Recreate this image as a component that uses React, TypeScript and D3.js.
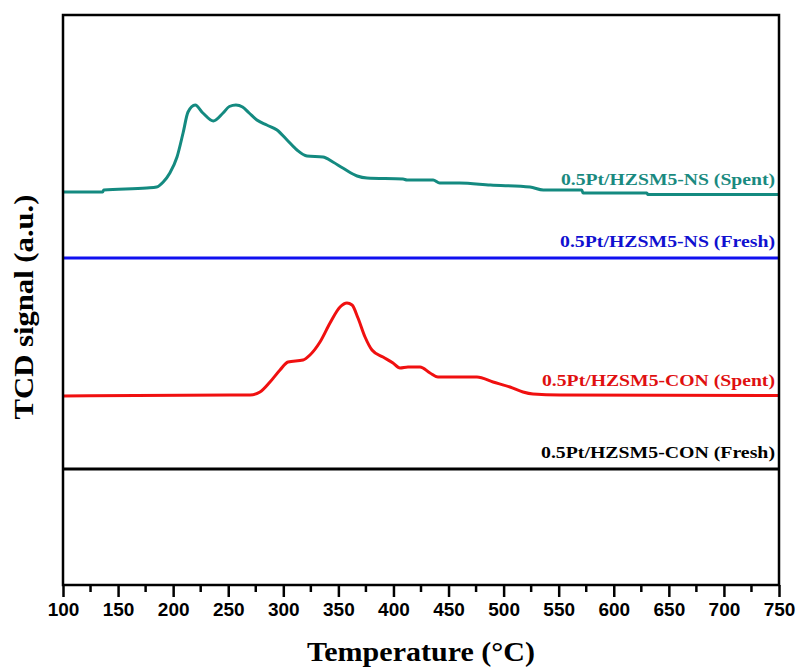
import React, { useEffect, useRef } from 'react';
import * as d3 from 'd3';

const width = 799;
const height = 669;
const margin = { top: 15, right: 20, bottom: 84, left: 63 };

// temperature (°C) and TCD signal (a.u., offset per curve)
const nsSpentTemp = [100, 136, 137, 176, 185, 191, 197, 203.5, 209, 213.5, 220, 227, 236.5, 245.3, 251, 257, 263, 269, 276, 285, 294.3, 303.4, 312.4, 321.5, 336, 345, 354, 367, 376, 408.7, 412.3, 436, 442, 460, 488, 524, 536, 571, 572, 630, 631, 750];
const nsSpentSignal = [39.3, 39.3, 39.5, 39.7, 39.8, 40.3, 41.2, 42.8, 45.2, 47.3, 48.0, 47.2, 46.4, 47.2, 47.85, 48.0, 47.8, 47.2, 46.5, 46.0, 45.5, 44.5, 43.5, 42.9, 42.8, 42.3, 41.7, 40.9, 40.7, 40.6, 40.5, 40.5, 40.2, 40.2, 40.0, 39.8, 39.5, 39.5, 39.2, 39.2, 39.05, 39.05];

const nsFreshTemp = [100, 750];
const nsFreshSignal = [32.7, 32.7];

const conSpentTemp = [100, 251.6, 269.8, 278.8, 287.9, 297, 304.3, 317.9, 324.2, 333.3, 342.4, 351.5, 357.8, 362.4, 367.8, 374.2, 380.5, 390.5, 399.6, 405.9, 413.2, 424.1, 433.2, 440.4, 475.8, 490.4, 505.8, 517.6, 526.7, 551.2, 750];
const conSpentSignal = [18.9, 19.0, 19.0, 19.3, 20.3, 21.5, 22.3, 22.5, 23.0, 24.3, 26.2, 27.8, 28.2, 28.0, 26.7, 24.8, 23.5, 22.8, 22.2, 21.7, 21.8, 21.8, 21.2, 20.8, 20.8, 20.3, 19.8, 19.3, 19.1, 19.0, 18.95];

const conFreshTemp = [100, 750];
const conFreshSignal = [11.6, 11.6];

const seriesNames = ['0.5Pt/HZSM5-NS (Spent)', '0.5Pt/HZSM5-NS (Fresh)', '0.5Pt/HZSM5-CON (Spent)', '0.5Pt/HZSM5-CON (Fresh)'];
const lineColors = ['#148a80', '#1010f0', '#f01010', '#000000'];
const labelColors = ['#1a8a80', '#1010d0', '#e01010', '#000000'];
// label baseline signal value and label width
const labelSignal = [40.0, 33.8, 19.9, 12.7];
const labelWidth = [214, 215, 233, 234];

const majorTicks = d3.range(100, 751, 50);
const minorTicks = d3.range(125, 750, 50);

function App() {
  const ref = useRef<SVGSVGElement>(null);

  useEffect(() => {
    const svg = d3.select(ref.current);
    svg.selectAll('*').remove();

    const innerW = width - margin.left - margin.right;
    const innerH = height - margin.top - margin.bottom;

    const x = d3.scaleLinear().domain([100, 750]).range([0, innerW]);
    const y = d3.scaleLinear().domain([0, 57]).range([innerH, 0]);

    const g = svg.append('g').attr('transform', `translate(${margin.left},${margin.top})`);

    const series = [
      { t: nsSpentTemp, s: nsSpentSignal },
      { t: nsFreshTemp, s: nsFreshSignal },
      { t: conSpentTemp, s: conSpentSignal },
      { t: conFreshTemp, s: conFreshSignal },
    ];

    const line = d3
      .line<[number, number]>()
      .x((d) => x(d[0]))
      .y((d) => y(d[1]))
      .curve(d3.curveMonotoneX);

    series.forEach((sr, i) => {
      const pts: [number, number][] = sr.t.map((t, j) => [t, sr.s[j]]);
      g.append('path')
        .attr('d', line(pts))
        .attr('fill', 'none')
        .attr('stroke', lineColors[i])
        .attr('stroke-width', 3);

      g.append('text')
        .attr('x', innerW - 4)
        .attr('y', y(labelSignal[i]))
        .attr('text-anchor', 'end')
        .attr('font-family', '"Liberation Serif", "Times New Roman", serif')
        .attr('font-weight', 'bold')
        .attr('font-size', 17)
        .attr('textLength', labelWidth[i])
        .attr('lengthAdjust', 'spacingAndGlyphs')
        .attr('fill', labelColors[i])
        .text(seriesNames[i]);
    });

    // frame
    g.append('rect')
      .attr('width', innerW)
      .attr('height', innerH)
      .attr('fill', 'none')
      .attr('stroke', '#000')
      .attr('stroke-width', 2.5);

    // bottom axis
    const xAxis = d3
      .axisBottom(x)
      .tickValues(majorTicks)
      .tickSize(12)
      .tickFormat(d3.format('d'));
    const ax = g.append('g').attr('transform', `translate(0,${innerH})`).call(xAxis);
    ax.select('.domain').remove();
    ax.selectAll('line').attr('stroke', '#000').attr('stroke-width', 2.5);
    ax.selectAll('text')
      .attr('font-family', '"Liberation Sans", Arial, sans-serif')
      .attr('font-weight', 'bold')
      .attr('font-size', 19)
      .attr('fill', '#000')
      .attr('dy', '0.85em');

    g.append('g')
      .attr('transform', `translate(0,${innerH})`)
      .selectAll('line')
      .data(minorTicks)
      .join('line')
      .attr('x1', (d) => x(d))
      .attr('x2', (d) => x(d))
      .attr('y1', 0)
      .attr('y2', 7)
      .attr('stroke', '#000')
      .attr('stroke-width', 2.5);

    // titles
    svg.append('text')
      .attr('x', margin.left + innerW / 2)
      .attr('y', 661)
      .attr('text-anchor', 'middle')
      .attr('font-family', '"Liberation Serif", "Times New Roman", serif')
      .attr('font-weight', 'bold')
      .attr('font-size', 28)
      .attr('textLength', 228)
      .attr('lengthAdjust', 'spacingAndGlyphs')
      .text('Temperature (°C)');

    svg.append('text')
      .attr('transform', `translate(33,${307}) rotate(-90)`)
      .attr('text-anchor', 'middle')
      .attr('font-family', '"Liberation Serif", "Times New Roman", serif')
      .attr('font-weight', 'bold')
      .attr('font-size', 28)
      .attr('textLength', 225)
      .attr('lengthAdjust', 'spacingAndGlyphs')
      .text('TCD signal (a.u.)');
  }, []);

  return (
    <svg
      ref={ref}
      width={width}
      height={height}
      style={{ position: 'absolute', left: 0, top: 0, background: '#fff' }}
    />
  );
}

export default App;
